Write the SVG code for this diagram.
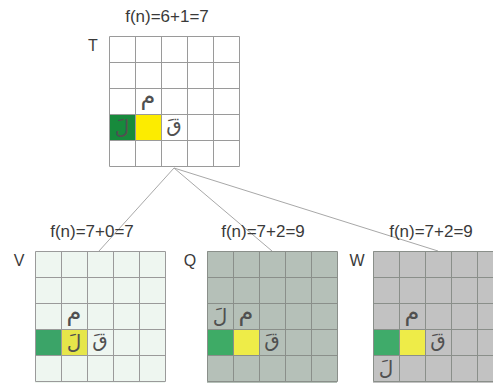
<svg xmlns="http://www.w3.org/2000/svg" xmlns:xlink="http://www.w3.org/1999/xlink" width="493" height="383" viewBox="0 0 493 383">
<style>
.title{font-family:"Liberation Sans",Arial,sans-serif;font-size:17px;fill:#3a3a3a;text-anchor:middle}
.lbl{font-family:"Liberation Sans",Arial,sans-serif;font-size:16px;fill:#3a3a3a;text-anchor:middle}
.ar{font-family:"DejaVu Sans",sans-serif;font-size:20px;fill:#505050;text-anchor:middle}
.m{font-size:24px}
.gl{fill:none;stroke:#9a9a9a;stroke-width:1}
.gld{fill:none;stroke:#8a8f8a;stroke-width:1}
.conn{stroke:#a8a8a8;stroke-width:1;fill:none}
</style>
<defs>
<path id="gridlines" d="M0,0V130M26,0V130M52,0V130M78,0V130M104,0V130M130,0V130M0,0H130M0,26H130M0,52H130M0,78H130M0,104H130M0,130H130"/>
</defs>
<rect width="493" height="383" fill="#ffffff"/>
<g id="connectors">
<line class="conn" x1="174" y1="168" x2="99" y2="251"/>
<line class="conn" x1="174" y1="168" x2="272" y2="251"/>
<line class="conn" x1="174" y1="168" x2="438" y2="251"/>
</g>
<g id="node-T">
<text class="title" x="167" y="22">f(n)=6+1=7</text>
<text class="lbl" x="93" y="51">T</text>
<rect x="109" y="114" width="26" height="26" fill="#178a3c"/>
<rect x="135" y="114" width="26" height="26" fill="#fcec00"/>
<use href="#gridlines" class="gl" transform="translate(109.5,36.5)"/>
<text class="ar m" x="148" y="104">م</text>
<text class="ar" x="122" y="134">لَ</text>
<text class="ar" x="174" y="132">قَ</text>
</g>
<g id="node-V">
<text class="title" x="92" y="237">f(n)=7+0=7</text>
<text class="lbl" x="19" y="266">V</text>
<rect x="35" y="251" width="130" height="132" fill="#eef6f0"/>
<rect x="35" y="329" width="26" height="26" fill="#3ba468"/>
<rect x="61" y="329" width="26" height="26" fill="#e6e64a"/>
<use href="#gridlines" class="gl" transform="translate(35.5,251.5)"/>
<text class="ar m" x="74" y="320">م</text>
<text class="ar" x="74" y="349">لَ</text>
<text class="ar" x="100" y="347">قَ</text>
</g>
<g id="node-Q">
<text class="title" x="263" y="237">f(n)=7+2=9</text>
<text class="lbl" x="190" y="266">Q</text>
<rect x="207" y="251" width="130" height="132" fill="#b5c0b8"/>
<rect x="207" y="329" width="26" height="26" fill="#3eab66"/>
<rect x="233" y="329" width="26" height="26" fill="#eeec48"/>
<use href="#gridlines" class="gld" transform="translate(207.5,251.5)"/>
<text class="ar" x="220" y="323">لَ</text>
<text class="ar m" x="246" y="320">م</text>
<text class="ar" x="272" y="347">قَ</text>
</g>
<g id="node-W">
<text class="title" x="431" y="237">f(n)=7+2=9</text>
<text class="lbl" x="357" y="266">W</text>
<rect x="373" y="251" width="130" height="132" fill="#c2c2c2"/>
<rect x="373" y="329" width="26" height="26" fill="#3fab6a"/>
<rect x="399" y="329" width="26" height="26" fill="#eeec48"/>
<use href="#gridlines" class="gld" transform="translate(373.5,251.5)"/>
<text class="ar m" x="412" y="320">م</text>
<text class="ar" x="438" y="347">قَ</text>
<text class="ar" x="386" y="375">لَ</text>
</g>
</svg>
